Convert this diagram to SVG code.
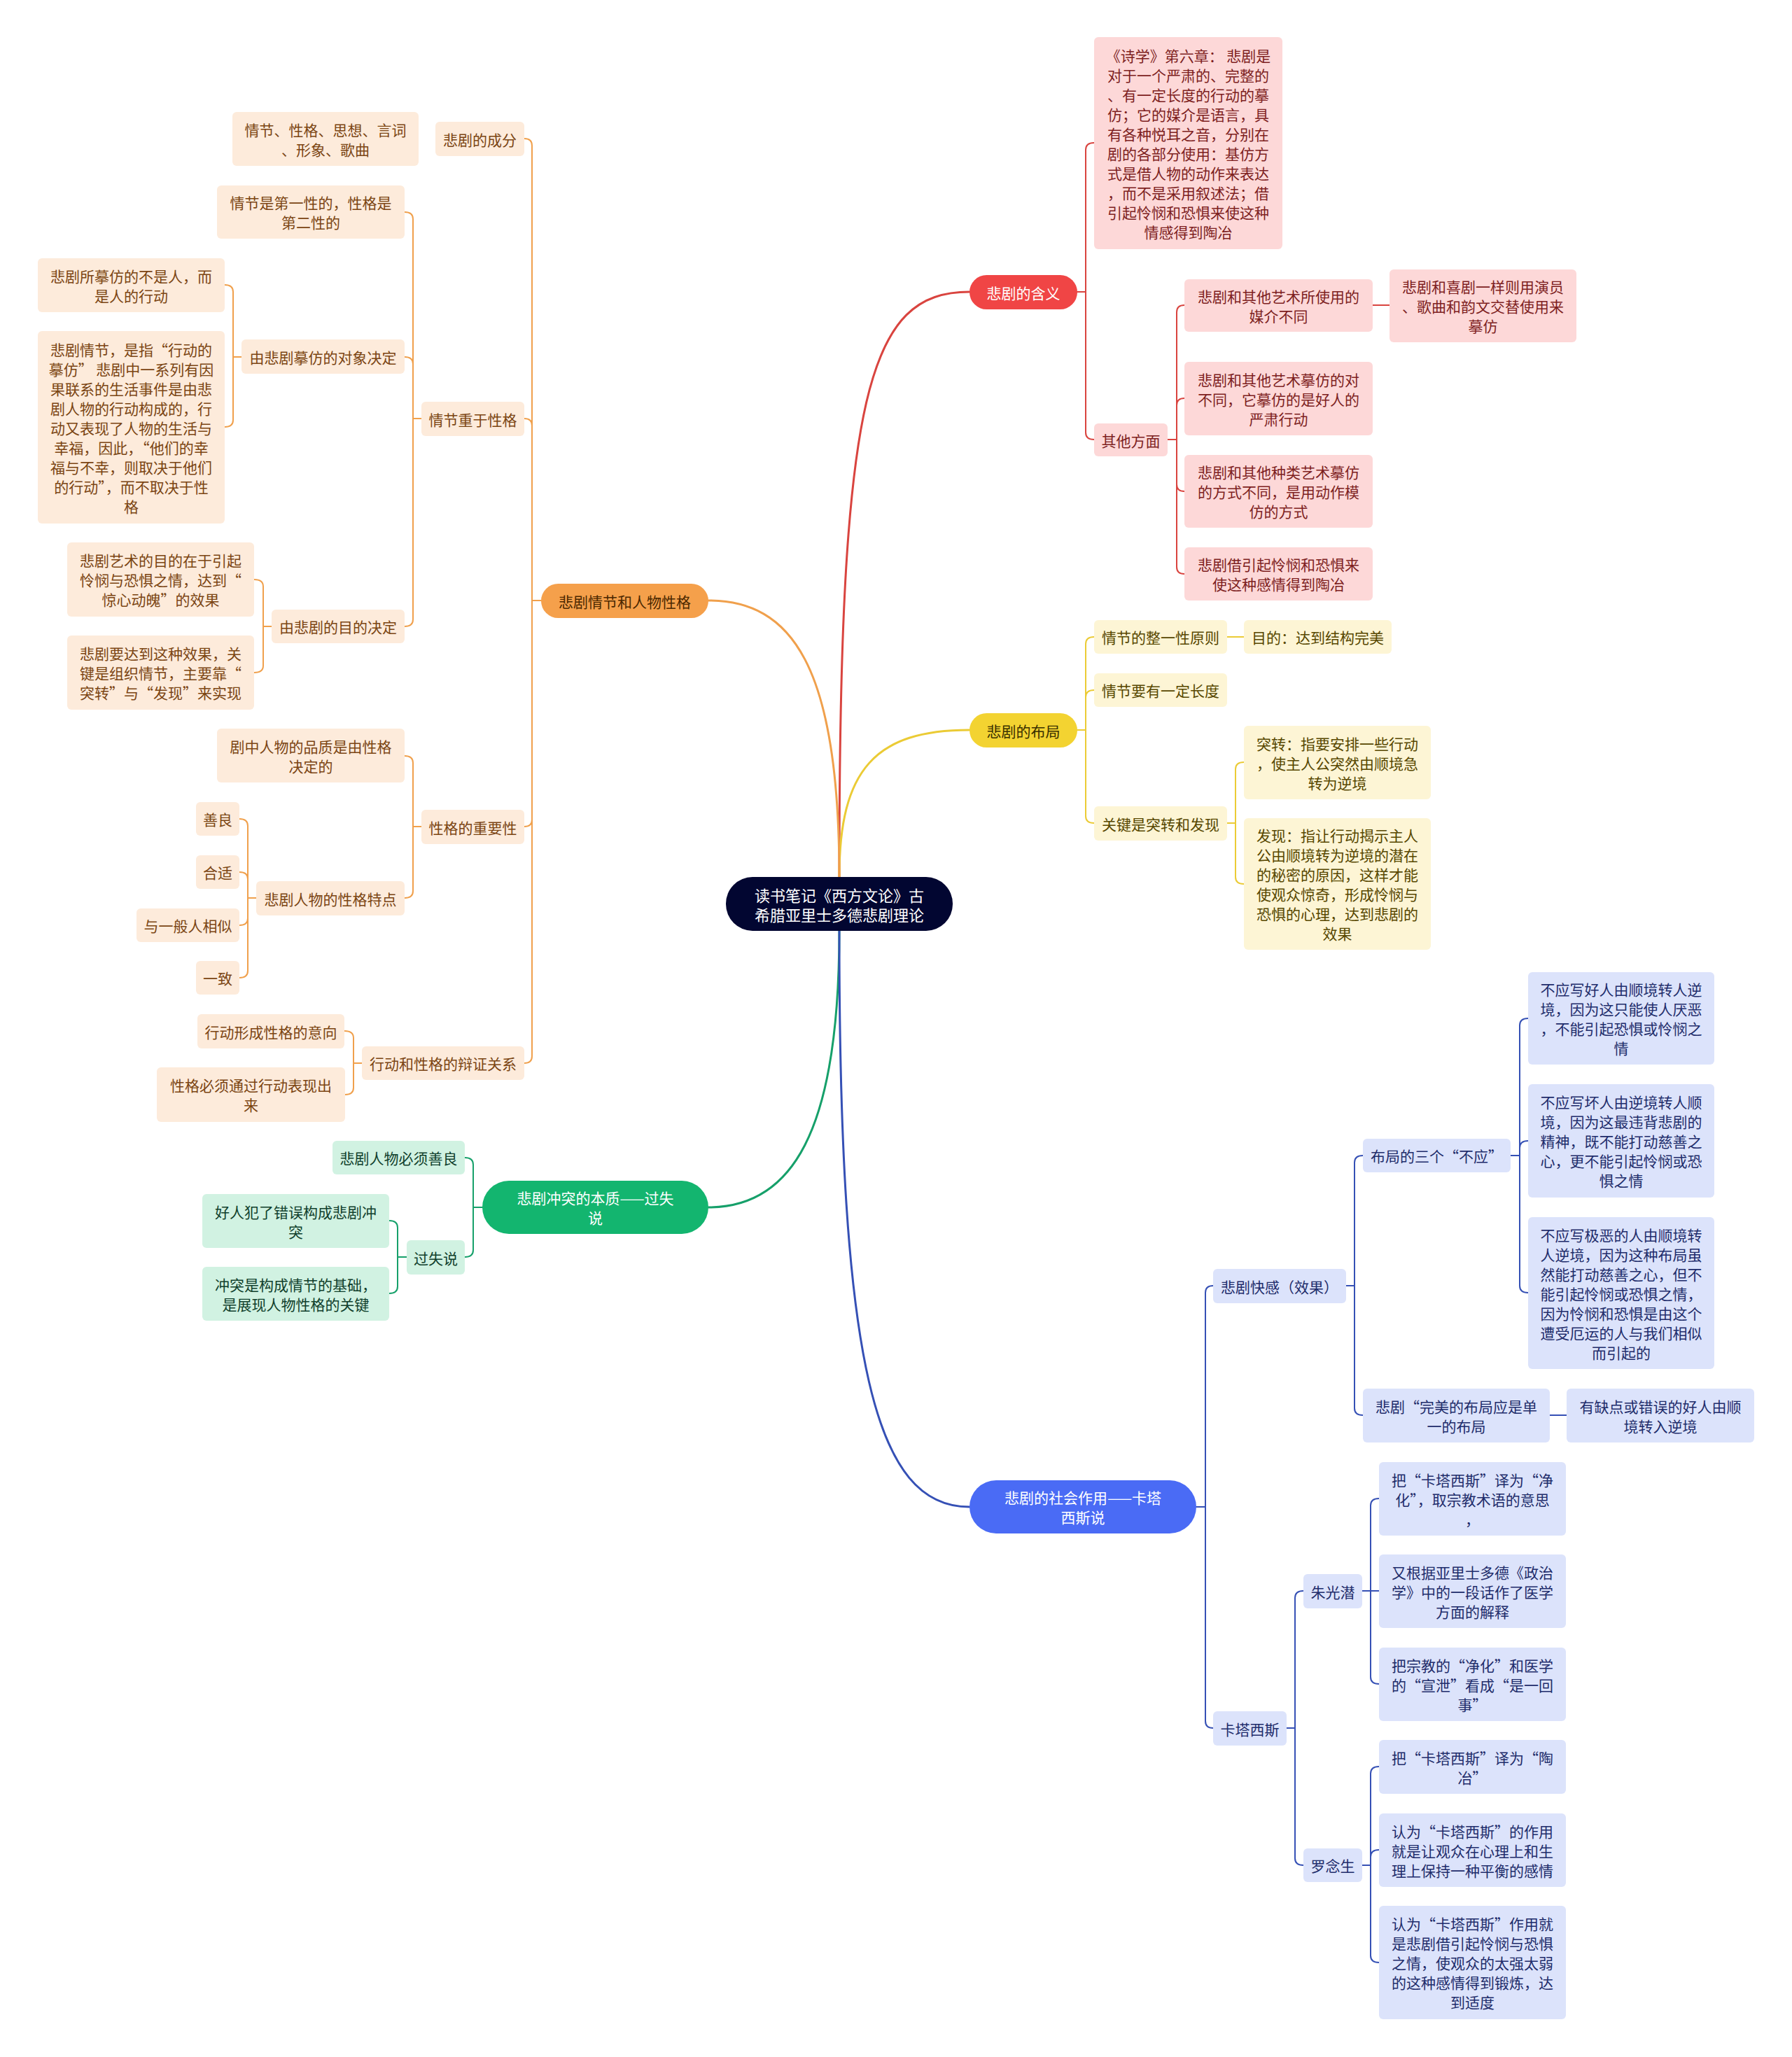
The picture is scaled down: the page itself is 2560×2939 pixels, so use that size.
<svg xmlns="http://www.w3.org/2000/svg" width="2560" height="2939" viewBox="0 0 2560 2939">
<style>
text{font-family:"Noto Sans CJK SC","Noto Sans",sans-serif;font-size:21px;text-anchor:middle;dominant-baseline:central}
.cn path{fill:none;stroke-width:2;stroke-linecap:round;stroke-linejoin:round}
.main{stroke-width:3 !important}
.lo{stroke:#F0A04C}.lr{stroke:#D9443F}.ly{stroke:#EBCB35}.lb{stroke:#3550B5}.lg{stroke:#16A06A}
.o rect{fill:#FDEBDB}.o text{fill:#7B4513}
.r rect{fill:#FDD8D8}.r text{fill:#7D1F1F}
.y rect{fill:#FDF5D5}.y text{fill:#574700}
.b rect{fill:#DCE3FB}.b text{fill:#1F2D6B}
.g rect{fill:#D1F2E2}.g text{fill:#103F2C}
.mo rect{fill:#F5A04B}.mo text{fill:#4B2800}
.mr rect{fill:#F04545}.mr text{fill:#fff}
.my rect{fill:#F3D331}.my text{fill:#3A3000}
.mb rect{fill:#4A6BF5}.mb text{fill:#fff}
.mg rect{fill:#13B56F}.mg text{fill:#fff}
.ct rect{fill:#020631}.ct text{fill:#fff;font-size:22px}
</style>
<rect width="2560" height="2939" fill="#fff"/>
<g id="connectors" class="cn">
<path class="main lr" d="M1199 1253 C1199 560 1240 417 1385 417"/>
<path class="main ly" d="M1199 1253 C1199 1100 1250 1043 1385 1043"/>
<path class="main lo" d="M1199 1253 C1199 950 1130 858 1012 858"/>
<path class="main lg" d="M1199 1330 C1199 1620 1130 1725 1012 1725"/>
<path class="main lb" d="M1199 1330 C1199 1950 1250 2153 1385 2153"/>
<!-- orange -->
<path class="lo" d="M773 858 H760 V208 Q760 198 749 198 M760 858 V608 Q760 598 749 598 M760 858 V1171 Q760 1181 749 1181 M760 858 V1509 Q760 1519 749 1519"/>
<path class="lo" d="M602 598 H590 V313 Q590 303 578 303 M590 598 V520 Q590 510 578 510 M590 598 V885 Q590 895 578 895"/>
<path class="lo" d="M345 510 H333 V417 Q333 407 321 407 M333 510 V600 Q333 610 321 610"/>
<path class="lo" d="M388 895 H376 V838 Q376 828 363 828 M376 895 V951 Q376 961 363 961"/>
<path class="lo" d="M602 1181 H590 V1090 Q590 1080 578 1080 M590 1181 V1273 Q590 1283 578 1283"/>
<path class="lo" d="M366 1283 H354 V1180 Q354 1170 342 1170 M354 1283 V1256 Q354 1246 342 1246 M354 1283 V1312 Q354 1322 342 1322 M354 1283 V1387 Q354 1397 342 1397"/>
<path class="lo" d="M517 1519 H505 V1483 Q505 1473 492 1473 M505 1519 V1554 Q505 1564 493 1564"/>
<!-- green -->
<path class="lg" d="M689 1725 H676 V1664 Q676 1654 664 1654 M676 1725 V1786 Q676 1796 664 1796"/>
<path class="lg" d="M581 1796 H568 V1754 Q568 1744 556 1744 M568 1796 V1838 Q568 1848 556 1848"/>
<!-- red -->
<path class="lr" d="M1539 417 H1551 V214 Q1551 204 1563 204 M1551 417 V618 Q1551 628 1563 628"/>
<path class="lr" d="M1668 628 H1681 V446 Q1681 436 1692 436 M1681 628 V579 Q1681 569 1692 569 M1681 628 V692 Q1681 702 1692 702 M1681 628 V810 Q1681 820 1692 820"/>
<path class="lr" d="M1961 436 H1985"/>
<!-- yellow -->
<path class="ly" d="M1539 1043 H1551 V920 Q1551 910 1563 910 M1551 1043 V996 Q1551 986 1563 986 M1551 1043 V1166 Q1551 1176 1563 1176"/>
<path class="ly" d="M1753 910 H1777"/>
<path class="ly" d="M1753 1176 H1765 V1099 Q1765 1089 1777 1089 M1765 1176 V1253 Q1765 1263 1777 1263"/>
<!-- blue -->
<path class="lb" d="M1709 2153 H1722 V1847 Q1722 1837 1733 1837 M1722 2153 V2459 Q1722 2469 1733 2469"/>
<path class="lb" d="M1923 1837 H1935 V1661 Q1935 1651 1947 1651 M1935 1837 V2012 Q1935 2022 1947 2022"/>
<path class="lb" d="M2158 1651 H2171 V1465 Q2171 1455 2183 1455 M2171 1651 V1640 Q2171 1630 2183 1630 M2171 1651 V1837 Q2171 1847 2183 1847"/>
<path class="lb" d="M2214 2022 H2238"/>
<path class="lb" d="M1837 2469 H1850 V2283 Q1850 2273 1862 2273 M1850 2469 V2655 Q1850 2665 1862 2665"/>
<path class="lb" d="M1946 2273 H1958 V2151 Q1958 2141 1970 2141 M1958 2273 H1970 M1958 2273 V2396 Q1958 2406 1970 2406"/>
<path class="lb" d="M1946 2665 H1958 V2534 Q1958 2524 1970 2524 M1958 2665 V2653 Q1958 2643 1970 2643 M1958 2665 V2794 Q1958 2804 1970 2804"/>
</g>
<g id="center" class="ct"><rect x="1037" y="1253" width="324" height="77" rx="38"/><text x="1199" y="1277.5">读书笔记《西方文论》古</text><text x="1199" y="1305.5">希腊亚里士多德悲剧理论</text></g>
<!-- orange branch -->
<g id="b-orange" class="mo"><rect x="773" y="834" width="239" height="49" rx="24.5"/><text x="892.5" y="858.5">悲剧情节和人物性格</text></g>
<g id="o1" class="o"><rect x="332" y="160" width="266" height="77" rx="6"/><text x="465" y="184.5">情节、性格、思想、言词</text><text x="465" y="212.5">、形象、歌曲</text></g>
<g id="o2" class="o"><rect x="622" y="174" width="127" height="49" rx="6"/><text x="685.5" y="198.5">悲剧的成分</text></g>
<g id="o3" class="o"><rect x="310" y="265" width="268" height="76" rx="6"/><text x="444" y="289">情节是第一性的，性格是</text><text x="444" y="317">第二性的</text></g>
<g id="o4" class="o"><rect x="54" y="369" width="267" height="77" rx="6"/><text x="187.5" y="393.5">悲剧所摹仿的不是人，而</text><text x="187.5" y="421.5">是人的行动</text></g>
<g id="o5" class="o"><rect x="54" y="473" width="267" height="275" rx="6"/><text x="187.5" y="498.5">悲剧情节，是指“行动的</text><text x="187.5" y="526.5">摹仿” 悲剧中一系列有因</text><text x="187.5" y="554.5">果联系的生活事件是由悲</text><text x="187.5" y="582.5">剧人物的行动构成的，行</text><text x="187.5" y="610.5">动又表现了人物的生活与</text><text x="187.5" y="638.5">幸福，因此，“他们的幸</text><text x="187.5" y="666.5">福与不幸，则取决于他们</text><text x="187.5" y="694.5">的行动”，而不取决于性</text><text x="187.5" y="722.5">格</text></g>
<g id="o6" class="o"><rect x="345" y="485" width="233" height="49" rx="6"/><text x="461.5" y="509.5">由悲剧摹仿的对象决定</text></g>
<g id="o7" class="o"><rect x="602" y="574" width="147" height="49" rx="6"/><text x="675.5" y="598.5">情节重于性格</text></g>
<g id="o8" class="o"><rect x="96" y="775" width="267" height="106" rx="6"/><text x="229.5" y="800">悲剧艺术的目的在于引起</text><text x="229.5" y="828">怜悯与恐惧之情，达到“</text><text x="229.5" y="856">惊心动魄”的效果</text></g>
<g id="o9" class="o"><rect x="96" y="908" width="267" height="106" rx="6"/><text x="229.5" y="933">悲剧要达到这种效果，关</text><text x="229.5" y="961">键是组织情节，主要靠“</text><text x="229.5" y="989">突转”与“发现”来实现</text></g>
<g id="o10" class="o"><rect x="388" y="871" width="190" height="48" rx="6"/><text x="483" y="895">由悲剧的目的决定</text></g>
<g id="o11" class="o"><rect x="310" y="1041" width="268" height="77" rx="6"/><text x="444" y="1065.5">剧中人物的品质是由性格</text><text x="444" y="1093.5">决定的</text></g>
<g id="o12" class="o"><rect x="280" y="1146" width="62" height="48" rx="6"/><text x="311" y="1170">善良</text></g>
<g id="o13" class="o"><rect x="280" y="1222" width="62" height="48" rx="6"/><text x="311" y="1246">合适</text></g>
<g id="o14" class="o"><rect x="195" y="1298" width="147" height="48" rx="6"/><text x="268.5" y="1322">与一般人相似</text></g>
<g id="o15" class="o"><rect x="280" y="1373" width="62" height="48" rx="6"/><text x="311" y="1397">一致</text></g>
<g id="o16" class="o"><rect x="366" y="1259" width="212" height="49" rx="6"/><text x="472" y="1283.5">悲剧人物的性格特点</text></g>
<g id="o17" class="o"><rect x="602" y="1157" width="147" height="49" rx="6"/><text x="675.5" y="1181.5">性格的重要性</text></g>
<g id="o18" class="o"><rect x="282" y="1449" width="210" height="49" rx="6"/><text x="387" y="1473.5">行动形成性格的意向</text></g>
<g id="o19" class="o"><rect x="517" y="1495" width="232" height="48" rx="6"/><text x="633" y="1519">行动和性格的辩证关系</text></g>
<g id="o20" class="o"><rect x="224" y="1525" width="269" height="78" rx="6"/><text x="358.5" y="1550">性格必须通过行动表现出</text><text x="358.5" y="1578">来</text></g>
<!-- green branch -->
<g id="b-green" class="mg"><rect x="689" y="1687" width="323" height="76" rx="38"/><text x="850.5" y="1711">悲剧冲突的本质——过失</text><text x="850.5" y="1739">说</text></g>
<g id="g1" class="g"><rect x="475" y="1630" width="189" height="48" rx="6"/><text x="569.5" y="1654">悲剧人物必须善良</text></g>
<g id="g2" class="g"><rect x="289" y="1706" width="267" height="77" rx="6"/><text x="422.5" y="1730.5">好人犯了错误构成悲剧冲</text><text x="422.5" y="1758.5">突</text></g>
<g id="g3" class="g"><rect x="581" y="1772" width="83" height="49" rx="6"/><text x="622.5" y="1796.5">过失说</text></g>
<g id="g4" class="g"><rect x="289" y="1810" width="267" height="77" rx="6"/><text x="422.5" y="1834.5">冲突是构成情节的基础，</text><text x="422.5" y="1862.5">是展现人物性格的关键</text></g>
<!-- red branch -->
<g id="b-red" class="mr"><rect x="1385" y="393" width="154" height="49" rx="24.5"/><text x="1462" y="417.5">悲剧的含义</text></g>
<g id="r1" class="r"><rect x="1563" y="53" width="269" height="303" rx="6"/><text x="1697.5" y="78.5">《诗学》第六章：  悲剧是</text><text x="1697.5" y="106.5">对于一个严肃的、完整的</text><text x="1697.5" y="134.5">、有一定长度的行动的摹</text><text x="1697.5" y="162.5">仿；它的媒介是语言，具</text><text x="1697.5" y="190.5">有各种悦耳之音，分别在</text><text x="1697.5" y="218.5">剧的各部分使用：基仿方</text><text x="1697.5" y="246.5">式是借人物的动作来表达</text><text x="1697.5" y="274.5">，而不是采用叙述法；借</text><text x="1697.5" y="302.5">引起怜悯和恐惧来使这种</text><text x="1697.5" y="330.5">情感得到陶冶</text></g>
<g id="r2" class="r"><rect x="1563" y="605" width="105" height="47" rx="6"/><text x="1615.5" y="628.5">其他方面</text></g>
<g id="r3" class="r"><rect x="1692" y="399" width="269" height="75" rx="6"/><text x="1826.5" y="422.5">悲剧和其他艺术所使用的</text><text x="1826.5" y="450.5">媒介不同</text></g>
<g id="r4" class="r"><rect x="1985" y="385" width="267" height="104" rx="6"/><text x="2118.5" y="409">悲剧和喜剧一样则用演员</text><text x="2118.5" y="437">、歌曲和韵文交替使用来</text><text x="2118.5" y="465">摹仿</text></g>
<g id="r5" class="r"><rect x="1692" y="517" width="269" height="105" rx="6"/><text x="1826.5" y="541.5">悲剧和其他艺术摹仿的对</text><text x="1826.5" y="569.5">不同，它摹仿的是好人的</text><text x="1826.5" y="597.5">严肃行动</text></g>
<g id="r6" class="r"><rect x="1692" y="650" width="269" height="104" rx="6"/><text x="1826.5" y="674">悲剧和其他种类艺术摹仿</text><text x="1826.5" y="702">的方式不同，是用动作模</text><text x="1826.5" y="730">仿的方式</text></g>
<g id="r7" class="r"><rect x="1692" y="782" width="269" height="76" rx="6"/><text x="1826.5" y="806">悲剧借引起怜悯和恐惧来</text><text x="1826.5" y="834">使这种感情得到陶冶</text></g>
<!-- yellow branch -->
<g id="b-yellow" class="my"><rect x="1385" y="1019" width="154" height="49" rx="24.5"/><text x="1462" y="1043.5">悲剧的布局</text></g>
<g id="y1" class="y"><rect x="1563" y="886" width="190" height="48" rx="6"/><text x="1658" y="910">情节的整一性原则</text></g>
<g id="y2" class="y"><rect x="1777" y="886" width="211" height="48" rx="6"/><text x="1882.5" y="910">目的：达到结构完美</text></g>
<g id="y3" class="y"><rect x="1563" y="962" width="190" height="48" rx="6"/><text x="1658" y="986">情节要有一定长度</text></g>
<g id="y4" class="y"><rect x="1563" y="1152" width="190" height="49" rx="6"/><text x="1658" y="1176.5">关键是突转和发现</text></g>
<g id="y5" class="y"><rect x="1777" y="1037" width="267" height="105" rx="6"/><text x="1910.5" y="1061.5">突转：指要安排一些行动</text><text x="1910.5" y="1089.5">，使主人公突然由顺境急</text><text x="1910.5" y="1117.5">转为逆境</text></g>
<g id="y6" class="y"><rect x="1777" y="1169" width="267" height="188" rx="6"/><text x="1910.5" y="1193">发现：指让行动揭示主人</text><text x="1910.5" y="1221">公由顺境转为逆境的潜在</text><text x="1910.5" y="1249">的秘密的原因，这样才能</text><text x="1910.5" y="1277">使观众惊奇，形成怜悯与</text><text x="1910.5" y="1305">恐惧的心理，达到悲剧的</text><text x="1910.5" y="1333">效果</text></g>
<!-- blue branch -->
<g id="b-blue" class="mb"><rect x="1385" y="2115" width="324" height="76" rx="38"/><text x="1547" y="2139">悲剧的社会作用——卡塔</text><text x="1547" y="2167">西斯说</text></g>
<g id="u1" class="b"><rect x="1733" y="1813" width="190" height="49" rx="6"/><text x="1828" y="1837.5">悲剧快感（效果）</text></g>
<g id="u2" class="b"><rect x="1947" y="1627" width="211" height="48" rx="6"/><text x="2052.5" y="1651">布局的三个“不应”</text></g>
<g id="u3" class="b"><rect x="2183" y="1389" width="266" height="132" rx="6"/><text x="2316" y="1413">不应写好人由顺境转人逆</text><text x="2316" y="1441">境，因为这只能使人厌恶</text><text x="2316" y="1469">，不能引起恐惧或怜悯之</text><text x="2316" y="1497">情</text></g>
<g id="u4" class="b"><rect x="2183" y="1549" width="266" height="162" rx="6"/><text x="2316" y="1574">不应写坏人由逆境转人顺</text><text x="2316" y="1602">境，因为这最违背悲剧的</text><text x="2316" y="1630">精神，既不能打动慈善之</text><text x="2316" y="1658">心，更不能引起怜悯或恐</text><text x="2316" y="1686">惧之情</text></g>
<g id="u5" class="b"><rect x="2183" y="1739" width="266" height="217" rx="6"/><text x="2316" y="1763.5">不应写极恶的人由顺境转</text><text x="2316" y="1791.5">人逆境，因为这种布局虽</text><text x="2316" y="1819.5">然能打动慈善之心，但不</text><text x="2316" y="1847.5">能引起怜悯或恐惧之情，</text><text x="2316" y="1875.5">因为怜悯和恐惧是由这个</text><text x="2316" y="1903.5">遭受厄运的人与我们相似</text><text x="2316" y="1931.5">而引起的</text></g>
<g id="u6" class="b"><rect x="1947" y="1984" width="267" height="77" rx="6"/><text x="2080.5" y="2008.5">悲剧“完美的布局应是单</text><text x="2080.5" y="2036.5">一的布局</text></g>
<g id="u7" class="b"><rect x="2238" y="1984" width="268" height="77" rx="6"/><text x="2372" y="2008.5">有缺点或错误的好人由顺</text><text x="2372" y="2036.5">境转入逆境</text></g>
<g id="u8" class="b"><rect x="1733" y="2445" width="105" height="49" rx="6"/><text x="1785.5" y="2469.5">卡塔西斯</text></g>
<g id="u9" class="b"><rect x="1862" y="2249" width="84" height="49" rx="6"/><text x="1904" y="2273.5">朱光潜</text></g>
<g id="u10" class="b"><rect x="1970" y="2089" width="267" height="105" rx="6"/><text x="2103.5" y="2113.5">把“卡塔西斯”译为“净</text><text x="2103.5" y="2141.5">化”，取宗教术语的意思</text><text x="2103.5" y="2169.5">，</text></g>
<g id="u11" class="b"><rect x="1970" y="2221" width="267" height="105" rx="6"/><text x="2103.5" y="2245.5">又根据亚里士多德《政治</text><text x="2103.5" y="2273.5">学》中的一段话作了医学</text><text x="2103.5" y="2301.5">方面的解释</text></g>
<g id="u12" class="b"><rect x="1970" y="2354" width="267" height="105" rx="6"/><text x="2103.5" y="2378.5">把宗教的“净化”和医学</text><text x="2103.5" y="2406.5">的“宣泄”看成“是一回</text><text x="2103.5" y="2434.5">事”</text></g>
<g id="u13" class="b"><rect x="1862" y="2641" width="84" height="48" rx="6"/><text x="1904" y="2665">罗念生</text></g>
<g id="u14" class="b"><rect x="1970" y="2486" width="267" height="77" rx="6"/><text x="2103.5" y="2510.5">把“卡塔西斯”译为“陶</text><text x="2103.5" y="2538.5">冶”</text></g>
<g id="u15" class="b"><rect x="1970" y="2591" width="267" height="105" rx="6"/><text x="2103.5" y="2615.5">认为“卡塔西斯”的作用</text><text x="2103.5" y="2643.5">就是让观众在心理上和生</text><text x="2103.5" y="2671.5">理上保持一种平衡的感情</text></g>
<g id="u16" class="b"><rect x="1970" y="2723" width="267" height="162" rx="6"/><text x="2103.5" y="2748">认为“卡塔西斯”作用就</text><text x="2103.5" y="2776">是悲剧借引起怜悯与恐惧</text><text x="2103.5" y="2804">之情，使观众的太强太弱</text><text x="2103.5" y="2832">的这种感情得到锻炼，达</text><text x="2103.5" y="2860">到适度</text></g>
</svg>
